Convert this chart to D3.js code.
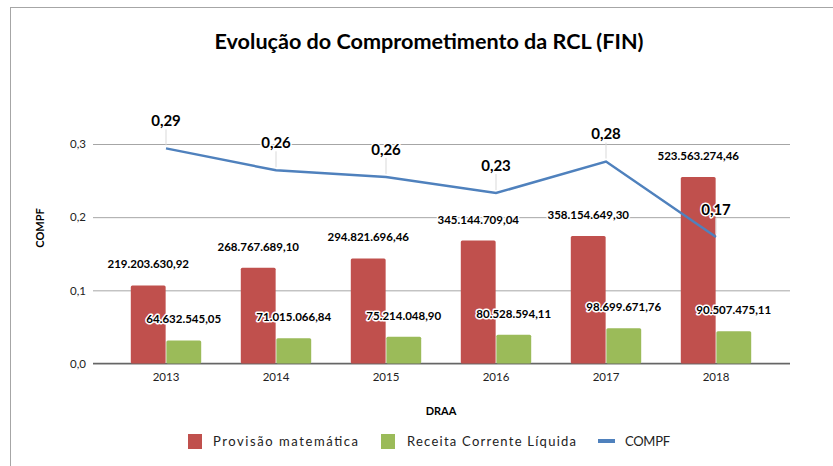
<!DOCTYPE html>
<html>
<head>
<meta charset="utf-8">
<script src="https://cdn.jsdelivr.net/npm/d3@7"></script>
<style>
  body { margin: 0; background: #fff; }
  text { font-family: Lato, "Open Sans", sans-serif; }
</style>
</head>
<body>
<div id="container"></div>
<script>
// data
const years = ["2013", "2014", "2015", "2016", "2017", "2018"];
const provisao = [219203630.92, 268767689.10, 294821696.46, 345144709.04, 358154649.30, 523563274.46];
const rcl = [64632545.05, 71015066.84, 75214048.90, 80528594.11, 98699671.76, 90507475.11];
const compf = [0.294, 0.264, 0.255, 0.233, 0.276, 0.173];
const yTicks = [0, 0.1, 0.2, 0.3];

const width = 833, height = 466;
const plot = {left: 93, right: 790, top: 144, bottom: 363.5};

const colors = {prov: "#C0504D", rcl: "#9BBB59", compf: "#4F81BD"};

const brl = v => {
    let s = d3.format(",.2f")(v);
    return s.replace(/,/g, "#").replace(".", ",").replace(/#/g, ".");
};

const svg = d3.select("#container").append("svg")
    .attr("width", width)
    .attr("height", height);

// chart frame
svg.append("rect")
    .attr("x", 10.5).attr("y", 7.5)
    .attr("width", 840).attr("height", 480)
    .attr("fill", "#fff")
    .attr("stroke", "#a6a6a6");

svg.append("text")
    .attr("x", 429).attr("y", 49)
    .attr("text-anchor", "middle")
    .attr("font-size", 21.6).attr("font-weight", "bold")
    .text("Evolução do Comprometimento da RCL (FIN)");

const x = d3.scaleBand().domain(years).range([111, 771])
    .paddingInner(0.36).paddingOuter(0.18);
const xSub = d3.scaleBand().domain(["prov", "rcl"]).range([0, x.bandwidth()]).paddingInner(0.02);
const y = d3.scaleLinear().domain([0, 0.3]).range([plot.bottom, plot.top]);
const yBar = d3.scaleLinear().domain([0, 616e6]).range([plot.bottom, plot.top]);

// y axis + gridlines
const yAxis = svg.append("g")
    .attr("transform", `translate(${plot.left},0)`)
    .call(d3.axisLeft(y).tickValues(yTicks)
        .tickSize(-(plot.right - plot.left))
        .tickPadding(7)
        .tickFormat(d => d3.format(".1f")(d).replace(".", ",")));
yAxis.select(".domain").remove();
yAxis.selectAll("line").attr("stroke", "#a6a6a6");
yAxis.selectAll("text").attr("font-size", 11.5).attr("fill", "#222");

svg.append("line")
    .attr("x1", plot.left).attr("x2", plot.right)
    .attr("y1", plot.bottom).attr("y2", plot.bottom)
    .attr("stroke", "#666").attr("stroke-width", 1.3);

// x axis
const xAxis = svg.append("g")
    .attr("transform", `translate(0,${plot.bottom})`)
    .call(d3.axisBottom(x).tickSize(0).tickPadding(9));
xAxis.select(".domain").remove();
xAxis.selectAll("text").attr("font-size", 11.5).attr("fill", "#222");

// axis titles
svg.append("text")
    .attr("transform", "translate(44,228) rotate(-90)")
    .attr("text-anchor", "middle")
    .attr("font-size", 11).attr("font-weight", "bold")
    .text("COMPF");
svg.append("text")
    .attr("x", 441).attr("y", 415)
    .attr("text-anchor", "middle")
    .attr("font-size", 11).attr("font-weight", "bold")
    .text("DRAA");

// bars
const rows = years.map((yr, i) => ({year: yr, prov: provisao[i], rcl: rcl[i]}));
const groups = svg.append("g").selectAll("g")
    .data(rows).enter().append("g")
    .attr("transform", d => `translate(${x(d.year)},0)`);

["prov", "rcl"].forEach(key => {
    groups.append("rect")
        .attr("x", xSub(key))
        .attr("y", d => yBar(d[key]))
        .attr("width", xSub.bandwidth())
        .attr("height", d => plot.bottom - yBar(d[key]))
        .attr("rx", 1.5)
        .attr("fill", colors[key]);
});

// COMPF line
const line = d3.line()
    .x((d, i) => x(years[i]) + x.bandwidth() / 2)
    .y(d => y(d));
svg.append("path")
    .datum(compf)
    .attr("fill", "none")
    .attr("stroke", colors.compf)
    .attr("stroke-width", 2.5)
    .attr("d", line);

// leader lines for COMPF labels
svg.append("g").selectAll("line")
    .data(compf).enter().append("line")
    .attr("x1", (d, i) => x(years[i]) + x.bandwidth() / 2)
    .attr("x2", (d, i) => x(years[i]) + x.bandwidth() / 2)
    .attr("y1", d => y(d) - 19)
    .attr("y2", d => y(d) - 3)
    .attr("stroke", "#d9d9d9").attr("stroke-width", 1);

const halo = sel => sel
    .attr("stroke", "#fff").attr("stroke-width", 3)
    .attr("stroke-linejoin", "round")
    .attr("paint-order", "stroke")
    .attr("fill", "#000")
    .attr("font-weight", "bold")
    .attr("text-anchor", "middle");

// bar labels
["prov", "rcl"].forEach(key => {
    groups.append("text")
        .attr("x", xSub(key) + xSub.bandwidth() / 2)
        .attr("y", d => yBar(d[key]) - 21)
        .attr("dy", "0.35em")
        .attr("font-size", 11.5)
        .call(halo)
        .text(d => brl(d[key]));
});

// COMPF labels
svg.append("g").selectAll("text")
    .data(compf).enter().append("text")
    .attr("x", (d, i) => x(years[i]) + x.bandwidth() / 2)
    .attr("y", d => y(d) - 27.5)
    .attr("dy", "0.35em")
    .attr("font-size", 15)
    .call(halo)
    .text(d => d3.format(".2f")(d).replace(".", ","));

// legend
const legend = svg.append("g").attr("font-size", 13);
const items = [
    {name: "Provisão matemática", key: "prov", x: 188, tx: 213, len: 145},
    {name: "Receita Corrente Líquida", key: "rcl", x: 381, tx: 407, len: 169},
    {name: "COMPF", key: "compf", x: 598, tx: 625, len: 45}
];
items.forEach(it => {
    if (it.key === "compf") {
        legend.append("rect").attr("x", it.x).attr("y", 439)
            .attr("width", 17).attr("height", 4).attr("fill", colors.compf);
    } else {
        legend.append("rect").attr("x", it.x).attr("y", 434)
            .attr("width", 14).attr("height", 15).attr("fill", colors[it.key]);
    }
    legend.append("text")
        .attr("x", it.tx).attr("y", 441).attr("dy", "0.35em")
        .attr("textLength", it.len).attr("lengthAdjust", "spacing")
        .attr("fill", "#222")
        .text(it.name);
});
</script>
</body>
</html>
